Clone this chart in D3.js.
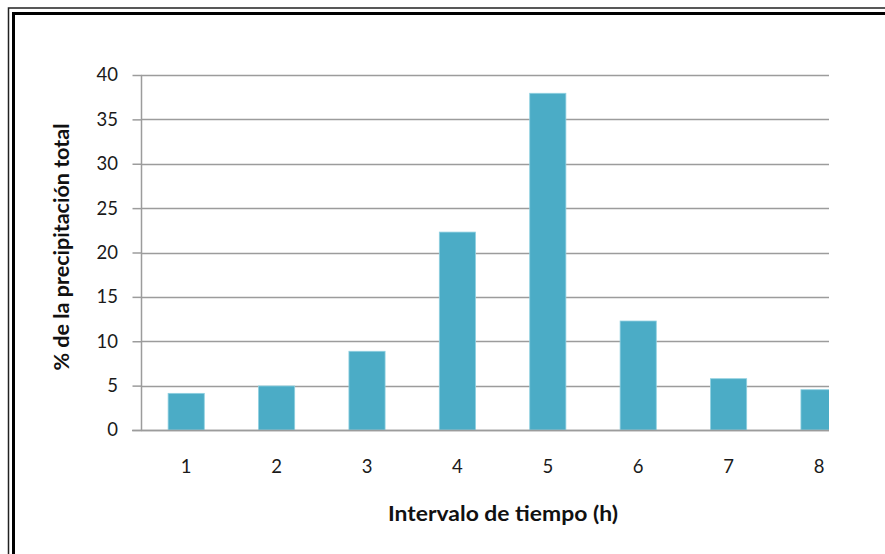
<!DOCTYPE html>
<html>
<head>
<meta charset="utf-8">
<script src="https://cdn.jsdelivr.net/npm/d3@7"></script>
<style>
  html, body { margin: 0; padding: 0; background: #fff; }
  svg { display: block; }
</style>
</head>
<body>
<svg id="chart" width="885" height="554"></svg>
<script>
const categories = ["1", "2", "3", "4", "5", "6", "7", "8"];
const values = [4.13, 4.96, 8.87, 22.3, 37.94, 12.28, 5.78, 4.54];
const yTicks = [0, 5, 10, 15, 20, 25, 30, 35, 40];
const xTitle = "Intervalo de tiempo (h)";
const yTitle = "% de la precipitación total";

(function () {
const svg = d3.select("#chart");
const W = 885, H = 554;

// frame (double line, cut at right/bottom)
svg.append("path")
  .attr("d", `M8.5,${H} V8 H${W}`)
  .attr("fill", "none").attr("stroke", "#222").attr("stroke-width", 1.5);
svg.append("path")
  .attr("d", `M13.5,${H} V13.5 H${W}`)
  .attr("fill", "none").attr("stroke", "#000").attr("stroke-width", 3);

const pLeft = 141, pTop = 75, pBottom = 430, clipRight = 829;
const x = d3.scaleBand().domain(categories).range([pLeft, pLeft + 8 * 90.4]).paddingInner(0.6).paddingOuter(0.3);
const y = d3.scaleLinear().domain([0, 40]).range([pBottom, pTop]);

const defs = svg.append("defs");
defs.append("clipPath").attr("id", "plotclip")
  .append("rect").attr("x", pLeft).attr("y", 0).attr("width", clipRight - pLeft).attr("height", H);

// gridlines
const grid = svg.append("g").attr("clip-path", "url(#plotclip)");
grid.selectAll("line.grid").data(yTicks).join("line")
  .attr("class", "grid")
  .attr("x1", pLeft).attr("x2", clipRight)
  .attr("y1", d => Math.round(y(d)) + 0.5).attr("y2", d => Math.round(y(d)) + 0.5)
  .attr("stroke", "#9c9c9c").attr("stroke-width", 1.5);

// bars
grid.selectAll("rect.bar").data(values).join("rect")
  .attr("class", "bar")
  .attr("x", (d, i) => x(categories[i]))
  .attr("width", x.bandwidth())
  .attr("y", d => y(d))
  .attr("height", d => y(0) - y(d))
  .attr("fill", "#4bacc6")
  .attr("stroke", "#8fd0e0").attr("stroke-width", 0.8);

// baseline over bars
svg.append("line")
  .attr("x1", 132).attr("x2", clipRight)
  .attr("y1", Math.round(y(0)) + 0.5).attr("y2", Math.round(y(0)) + 0.5)
  .attr("stroke", "#9c9c9c").attr("stroke-width", 1.5);

const tickFont = "Lato, 'Open Sans', 'DejaVu Sans', sans-serif";

// y axis
const yAxis = d3.axisLeft(y).tickValues(yTicks).tickSize(9).tickPadding(14.5).tickFormat(d3.format("d"));
const yg = svg.append("g").attr("transform", `translate(${pLeft + 0.5},0)`).call(yAxis);
yg.select(".domain").attr("stroke", "#9c9c9c").attr("stroke-width", 1.5).attr("d", `M0,${pBottom}V${pTop}`);
yg.selectAll(".tick line").attr("stroke", "#9c9c9c").attr("stroke-width", 1.5);
yg.selectAll(".tick text")
  .attr("font-family", tickFont)
  .attr("font-size", 18.5).attr("fill", "#1a1a1a");

// x axis labels
const xAxis = d3.axisBottom(x).tickSize(0).tickPadding(30);
const xg = svg.append("g").attr("transform", `translate(0,${pBottom})`).call(xAxis);
xg.select(".domain").remove();
xg.selectAll(".tick text")
  .attr("font-family", tickFont)
  .attr("font-size", 18.5).attr("fill", "#1a1a1a");

// titles
svg.append("text")
  .attr("x", 503).attr("y", 521)
  .attr("text-anchor", "middle")
  .attr("font-family", "Lato, 'Open Sans', sans-serif")
  .attr("font-weight", "bold").attr("font-size", 21).attr("fill", "#111")
  .attr("textLength", 230).attr("lengthAdjust", "spacingAndGlyphs")
  .text(xTitle);

svg.append("text")
  .attr("transform", "translate(69,247) rotate(-90)")
  .attr("text-anchor", "middle")
  .attr("font-family", "Lato, 'Open Sans', sans-serif")
  .attr("font-weight", "bold").attr("font-size", 21).attr("fill", "#111")
  .attr("textLength", 247).attr("lengthAdjust", "spacingAndGlyphs")
  .text(yTitle);
})();
</script>
</body>
</html>
